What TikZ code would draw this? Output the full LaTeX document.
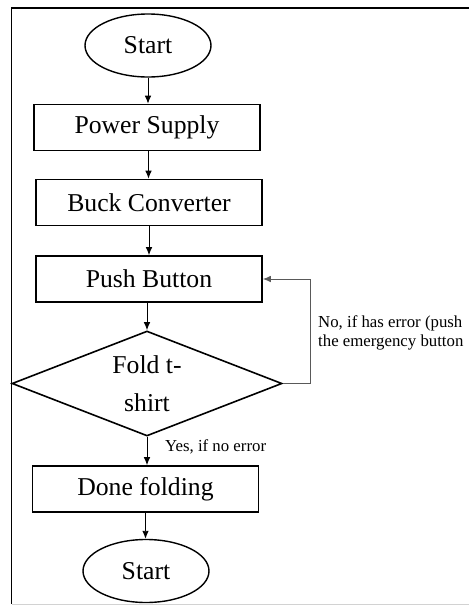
\documentclass[tikz,border=0pt]{standalone}
\usepackage{fontspec}
\setmainfont{Liberation Serif}
\usepackage{tikz}
\usetikzlibrary{arrows.meta,shapes.geometric}
\newcommand{\boxfont}{\fontsize{25.7}{38}\selectfont}
\newcommand{\notefont}{\fontsize{16.8}{19}\selectfont}
\tikzset{
	process/.style={draw, line width=1.6pt, rectangle, inner sep=0pt,
		minimum width=226pt, minimum height=46pt, font=\boxfont},
	terminal/.style={draw, line width=1.4pt, ellipse, inner sep=0pt,
		minimum width=126pt, minimum height=63pt, font=\boxfont},
	decision/.style={draw, line width=1.6pt, diamond, inner sep=0pt, aspect=2.5,
		minimum width=270pt, minimum height=105pt, align=center, font=\boxfont},
	flow/.style={-{Latex[length=8pt,width=6.5pt]}, line width=0.9pt},
	note/.style={inner sep=0pt, anchor=west, align=left, font=\notefont}
}

\begin{document}
\begin{tikzpicture}[x=1pt, y=-1pt]
	\useasboundingbox (0,0) rectangle (469,606);
	\clip (0,0) rectangle (469,606);
	% frame
	\draw [line width=1.6pt] (475,8) -- (11.5,8) -- (11.5,604);
	\draw [gray!35, line width=1pt] (11.5,604) -- (475,604);
	%
	\node [terminal] (start) at (148,45.5) {Start};
	\node [process] (power) at (147,127.5) {Power Supply};
	\node [process] (buck) at (149,202.5) {Buck Converter};
	\node [process] (push) at (149,279) {Push Button};
	\node [decision] (fold) at (147,383.5) {Fold t-\\shirt};
	\node [process] (done) at (145.5,489) {Done folding};
	\node [terminal] (stop) at (146,571) {Start};
	\coordinate (back) at (310,383.5);
	%
	\draw [flow] (start.south) to (start.south |- power.north);
	\draw [flow] (power.south) ++(1.5,0) coordinate (p1) to (p1 |- buck.north);
	\draw [flow] (buck.south) to (buck.south |- push.north);
	\draw [flow] (push.south -| fold.north) to (fold.north);
	\draw [flow] (fold.south) to (fold.south |- done.north);
	\draw [flow] (done.south) to (done.south |- stop.north);
	\draw [flow, gray!70!black] (fold.east) -- (back) |- (push.east);
	%
	\node [note] (yes) at (165,447) {Yes, if no error};
	\node [note] (no) at (318,332.5) {No, if has error (push\\the emergency button};
\end{tikzpicture}
\end{document}
